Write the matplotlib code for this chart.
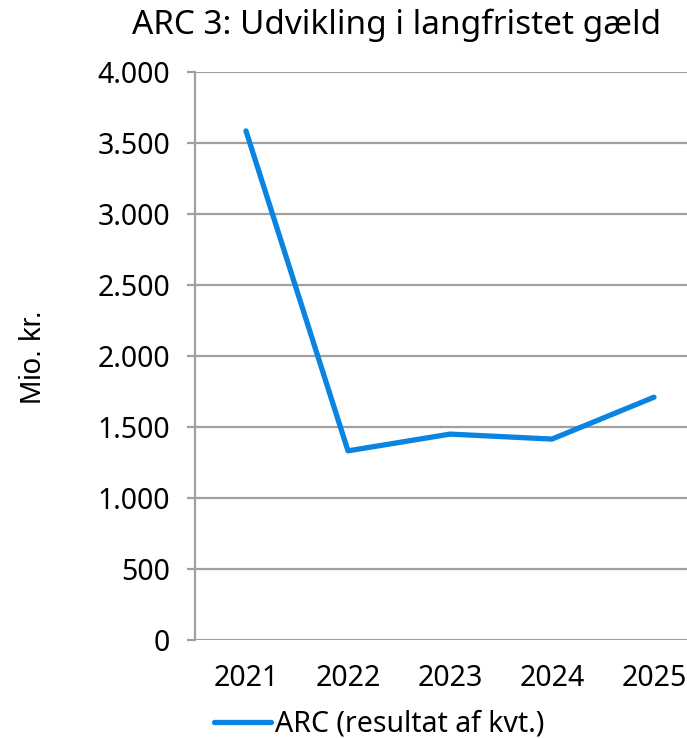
import matplotlib
matplotlib.use("Agg")
import matplotlib.pyplot as plt
from matplotlib.ticker import FuncFormatter, MultipleLocator
from matplotlib.lines import Line2D

years = ["2021", "2022", "2023", "2024", "2025"]
values = [3585, 1332, 1450, 1415, 1710]
series_name = "ARC (resultat af kvt.)"
title = "ARC 3: Udvikling i langfristet gæld"
ylabel = "Mio. kr."

W, H = 687, 738
fig = plt.figure(figsize=(W / 100, H / 100), dpi=100)
ax = fig.add_axes([195 / W, (H - 640) / H, 510 / W, 568 / H])

font = "Noto Sans"
line_color = "#0a84e0"
grid_color = "#a0a0a0"

x = list(range(len(years)))
ax.plot(x, values, color=line_color, lw=3.8, solid_capstyle="round", solid_joinstyle="round", zorder=3)

ax.set_xlim(-0.5, 4.5)
ax.set_ylim(0, 4000)
ax.yaxis.set_major_locator(MultipleLocator(500))
ax.yaxis.set_major_formatter(FuncFormatter(lambda v, p: f"{int(v):,}".replace(",", ".")))
ax.set_xticks(x)
ax.set_xticklabels(years)

ax.grid(axis="y", color=grid_color, lw=1.6)
ax.set_axisbelow(True)
for s in ["top", "right", "bottom"]:
    ax.spines[s].set_visible(False)
ax.spines["left"].set_color(grid_color)
ax.spines["left"].set_linewidth(1.6)

ax.tick_params(axis="y", length=6, width=1.6, color=grid_color, pad=12, labelsize=20.5)
ax.tick_params(axis="x", length=0, pad=17, labelsize=20.5)
for lab in ax.get_xticklabels() + ax.get_yticklabels():
    lab.set_fontfamily(font)
    lab.set_fontweight("medium")

fig.text(397 / W, 1 - 25 / H, title, ha="center", va="center", fontsize=24, family=font, fontweight="medium")
fig.text(33 / W, 1 - 357 / H, ylabel, ha="center", va="center", rotation=90, fontsize=21, family="Liberation Sans")

handle = Line2D([], [], color=line_color, lw=3.8, solid_capstyle="round")
fig.legend([handle], [series_name], loc="center", bbox_to_anchor=(379 / W, 1 - 724 / H),
           frameon=False, prop={"family": font, "size": 20.5, "weight": "medium"},
           handlelength=2.0, handletextpad=0.15, borderpad=0)

fig.savefig("out.png", dpi=100)
